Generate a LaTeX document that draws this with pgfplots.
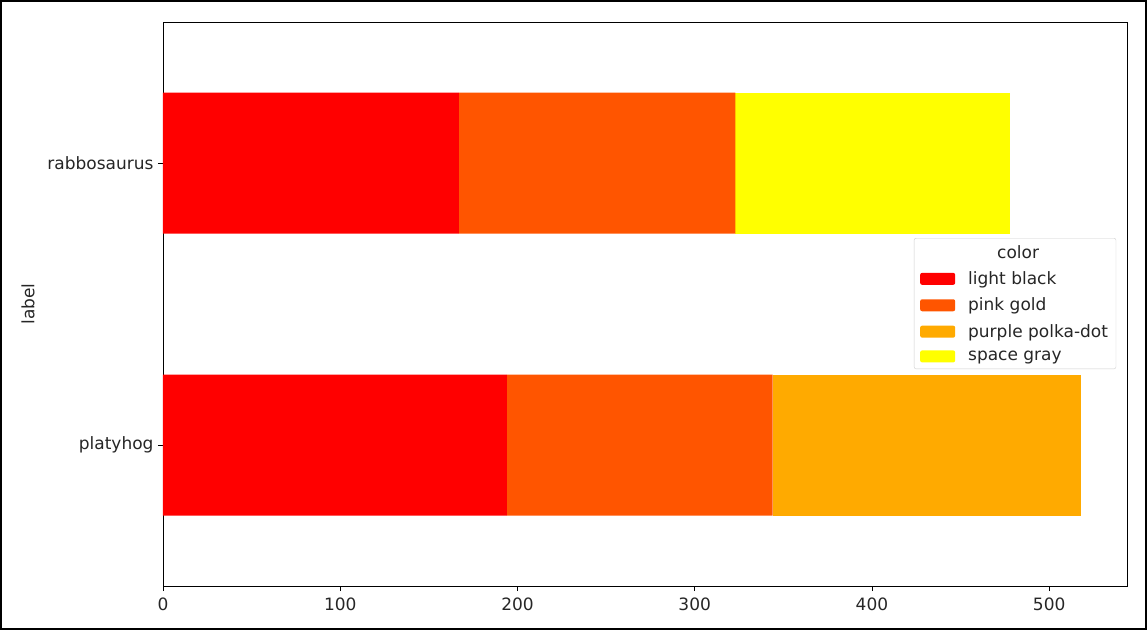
\documentclass[border=0pt]{standalone}
\usepackage{fontspec}
\setmainfont{DejaVu Sans}
\usepackage{pgfplots}
\pgfplotsset{compat=1.18}
\definecolor{cA}{RGB}{255,0,0}
\definecolor{cB}{RGB}{255,85,0}
\definecolor{cC}{RGB}{255,170,0}
\definecolor{cD}{RGB}{255,255,0}
\definecolor{txt}{RGB}{38,38,38}
\newcommand\f{\fontsize{17pt}{20pt}\selectfont}
\begin{document}
\begin{tikzpicture}
\path (-163pt,-44pt) rectangle (984pt,586pt);
\draw[line width=2.5pt,black] (-161.75pt,-42.75pt) rectangle (982.75pt,584.75pt);
\begin{axis}[
  at={(0pt,0pt)}, anchor=south west,
  scale only axis, width=964pt, height=564pt,
  xbar stacked, bar width=141pt,
  xmin=0, xmax=543.9, ymin=-0.5, ymax=1.5,
  xtick={0,100,200,300,400,500},
  ytick={0,1}, yticklabels={platyhog,rabbosaurus},
  tick align=outside, xtick pos=bottom, ytick pos=left,
  major tick length=5pt,
  every tick/.style={black, line width=0.9pt},
  axis line style={black, line width=0.9pt},
  /pgf/number format/assume math mode=true,
  tick label style={font=\f, text=txt},
  xticklabel style={yshift=-3pt},
  yticklabel style={xshift=-1pt},
  ylabel={label}, ylabel style={font=\f, text=txt, at={(axis description cs:-0.140,0.5)}, anchor=center},
  legend style={at={(axis description cs:0.779,0.617)}, anchor=north west,
    font=\f, text=txt, draw=black!20, rounded corners=2pt, fill=white,
    row sep=8pt, inner xsep=6pt, inner ysep=5pt},
  legend cell align=left,
  legend image code/.code={\fill[#1] (0pt,-6pt) rectangle (35pt,6pt); \path (46pt,0pt);},
]
\addlegendimage{empty legend}
\addlegendentry{\hspace{29pt}color}
\addplot[fill=cA, draw=none] coordinates {(194,0) (167,1)};
\addlegendentry{light black}
\addplot[fill=cB, draw=none] coordinates {(150,0) (156,1)};
\addlegendentry{pink gold}
\addplot[fill=cC, draw=none] coordinates {(174,0) (0,1)};
\addlegendentry{purple polka-dot}
\addplot[fill=cD, draw=none] coordinates {(0,0) (155,1)};
\addlegendentry{space gray}
\end{axis}
\end{tikzpicture}
\end{document}
